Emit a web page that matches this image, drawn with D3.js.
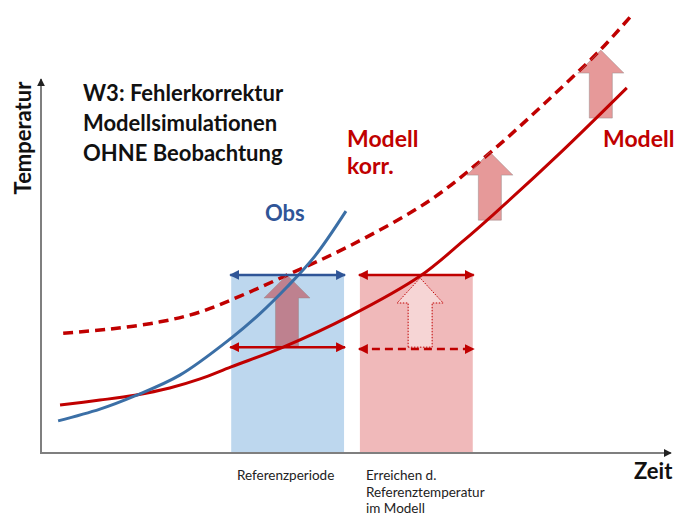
<!DOCTYPE html>
<head>
  <meta charset="utf-8">
  <script src="https://d3js.org/d3.v7.min.js"></script>
  <style>
  body,html {margin:0; background:#fff; font-family:Lato, "Open Sans", sans-serif;}
  .bold {font-weight:bold;}
  </style>
</head>
<body>
<script>
  // time (x) and temperature (y) in chart units, 0..100 on both axes
  const obsT = [2.7, 9.3, 14.8, 21.9, 30.0, 34.5, 38.8, 43.2, 48.1];
  const obsV = [8.5, 11.6, 15.1, 20.6, 30.4, 36.8, 43.9, 52.1, 64.0];

  const modT = [3.0, 9.3, 14.8, 20.3, 25.1, 30.0, 38.2, 48.7, 59.8, 66.6, 71.3, 81.9, 92.4];
  const modV = [12.7, 14.0, 15.3, 17.2, 19.6, 22.8, 28.0, 36.2, 46.8, 56.1, 63.0, 79.4, 96.6];

  const korrT = [3.5, 10.9, 18.8, 25.1, 31.4, 38.2, 48.7, 61.4, 70.8, 79.5, 88.2, 92.9];
  const korrV = [31.7, 32.8, 34.7, 37.3, 41.5, 46.6, 54.8, 66.9, 79.4, 92.6, 106.6, 115.3];

  const refPeriod = [30.0, 47.8];      // Referenzperiode
  const reachPeriod = [50.3, 68.1];    // Erreichen d. Referenztemperatur
  const refTemp = 47.1;                // obs temperature in reference period
  const modRefTemp = 28.0;             // model temperature in reference period

  // correction arrows: [time, from, to]
  const corrArrows = [[38.8, 28.3, 47.1], [70.8, 61.6, 79.6], [88.3, 88.6, 106.6]];
  const reachArrow = [59.8, 28.0, 46.3];

  const W = 677, H = 515;
  const x = d3.scaleLinear().domain([0, 100]).range([41, 675]);
  const y = d3.scaleLinear().domain([0, 100]).range([453, 75]);

  const red = "#c00000", blue = "#3b6fa6", blueDark = "#2f5597";

  const svg = d3.select("body").append("svg").attr("width", W).attr("height", H);

  const defs = svg.append("defs");
  function marker(id, color) {
    defs.append("marker").attr("id", id)
      .attr("viewBox", "0 0 10 10").attr("refX", 9).attr("refY", 5)
      .attr("markerWidth", 4).attr("markerHeight", 4)
      .attr("orient", "auto-start-reverse")
      .append("path").attr("d", "M0,0L10,5L0,10Z").attr("fill", color);
  }
  marker("hr", red);
  marker("hb", blueDark);
  marker("ax", "#222");

  // periods
  svg.append("rect").attr("x", x(refPeriod[0])).attr("width", x(refPeriod[1]) - x(refPeriod[0]))
    .attr("y", y(refTemp)).attr("height", y(0) - y(refTemp)).attr("fill", "#bdd7ee");
  svg.append("rect").attr("x", x(reachPeriod[0])).attr("width", x(reachPeriod[1]) - x(reachPeriod[0]))
    .attr("y", y(refTemp)).attr("height", y(0) - y(refTemp)).attr("fill", "#f0b9ba");

  const line = d3.line().x(d => x(d[0])).y(d => y(d[1])).curve(d3.curveCatmullRom);

  // corrected model (dashed)
  svg.append("path").datum(d3.zip(korrT, korrV)).attr("d", line)
    .attr("fill", "none").attr("stroke", red).attr("stroke-width", 3.5)
    .attr("stroke-dasharray", "10,6");

  function arrowPath(t, v0, v1, shaft, head, headH) {
    const cx = x(t), yb = y(v0), yt = y(v1);
    const p = d3.path();
    p.moveTo(cx - shaft / 2, yb);
    p.lineTo(cx - shaft / 2, yt + headH);
    p.lineTo(cx - head / 2, yt + headH);
    p.lineTo(cx, yt);
    p.lineTo(cx + head / 2, yt + headH);
    p.lineTo(cx + shaft / 2, yt + headH);
    p.lineTo(cx + shaft / 2, yb);
    p.closePath();
    return p.toString();
  }

  svg.selectAll(".corr").data(corrArrows).enter().append("path")
    .attr("class", "corr")
    .attr("d", d => arrowPath(d[0], d[1], d[2], 23, 46, 23))
    .attr("fill", red).attr("fill-opacity", 0.4)
    .attr("stroke", "#9a8a8a").attr("stroke-opacity", 0.5).attr("stroke-width", 1);

  svg.append("path")
    .attr("d", arrowPath(reachArrow[0], reachArrow[1], reachArrow[2], 24, 46, 25))
    .attr("fill", "#fff").attr("fill-opacity", 0.4)
    .attr("stroke", red).attr("stroke-width", 1).attr("stroke-dasharray", "1.5,1.5");

  // model and observations
  svg.append("path").datum(d3.zip(modT, modV)).attr("d", line)
    .attr("fill", "none").attr("stroke", red).attr("stroke-width", 3);
  svg.append("path").datum(d3.zip(obsT, obsV)).attr("d", line)
    .attr("fill", "none").attr("stroke", blue).attr("stroke-width", 3);

  // horizontal double arrows
  function hArrow(p, v, color, id, dash) {
    svg.append("line")
      .attr("x1", x(p[0]) - 1).attr("x2", x(p[1]) + 1)
      .attr("y1", y(v)).attr("y2", y(v))
      .attr("stroke", color).attr("stroke-width", 2.5)
      .attr("stroke-dasharray", dash || null)
      .attr("marker-start", `url(#${id})`).attr("marker-end", `url(#${id})`);
  }
  hArrow(refPeriod, refTemp, blueDark, "hb");
  hArrow(refPeriod, modRefTemp, red, "hr");
  hArrow(reachPeriod, refTemp, red, "hr");
  hArrow(reachPeriod, modRefTemp - 0.5, red, "hr", "8,5");

  // axes
  svg.append("line").attr("x1", x(0)).attr("x2", x(0)).attr("y1", y(0) + 1).attr("y2", y(100) + 4)
    .attr("stroke", "#7f7f7f").attr("stroke-width", 2).attr("marker-end", "url(#ax)");
  svg.append("line").attr("x1", x(0) - 1).attr("x2", x(100) - 4).attr("y1", y(0)).attr("y2", y(0))
    .attr("stroke", "#7f7f7f").attr("stroke-width", 2).attr("marker-end", "url(#ax)");

  // texts
  svg.append("text").attr("class", "bold").attr("transform", "translate(31,138) rotate(-90)")
    .attr("text-anchor", "middle").attr("font-size", 22).attr("fill", "#111").text("Temperatur");
  svg.append("text").attr("class", "bold").attr("x", 634).attr("y", 479)
    .attr("font-size", 22).attr("fill", "#111").text("Zeit");

  const title = ["W3: Fehlerkorrektur", "Modellsimulationen", "OHNE Beobachtung"];
  svg.selectAll(".title").data(title).enter().append("text")
    .attr("class", "bold title").attr("x", 83).attr("y", (d, i) => 101 + i * 30)
    .attr("font-size", 22).attr("fill", "#111").text(d => d);

  svg.append("text").attr("class", "bold").attr("x", 265).attr("y", 221)
    .attr("font-size", 22).attr("fill", blueDark).text("Obs");
  svg.selectAll(".korr").data(["Modell", "korr."]).enter().append("text")
    .attr("class", "bold korr").attr("x", 347).attr("y", (d, i) => 147 + i * 27)
    .attr("font-size", 23).attr("fill", red).text(d => d);
  svg.append("text").attr("class", "bold").attr("x", 603).attr("y", 147)
    .attr("font-size", 23).attr("fill", red).text("Modell");

  svg.append("text").attr("x", 237).attr("y", 480).attr("font-size", 13.5).attr("fill", "#222")
    .text("Referenzperiode");
  svg.selectAll(".reach").data(["Erreichen d.", "Referenztemperatur", "im Modell"]).enter().append("text")
    .attr("class", "reach").attr("x", 366).attr("y", (d, i) => 480 + i * 16.5)
    .attr("font-size", 13.5).attr("fill", "#222").text(d => d);
</script>
</body>
